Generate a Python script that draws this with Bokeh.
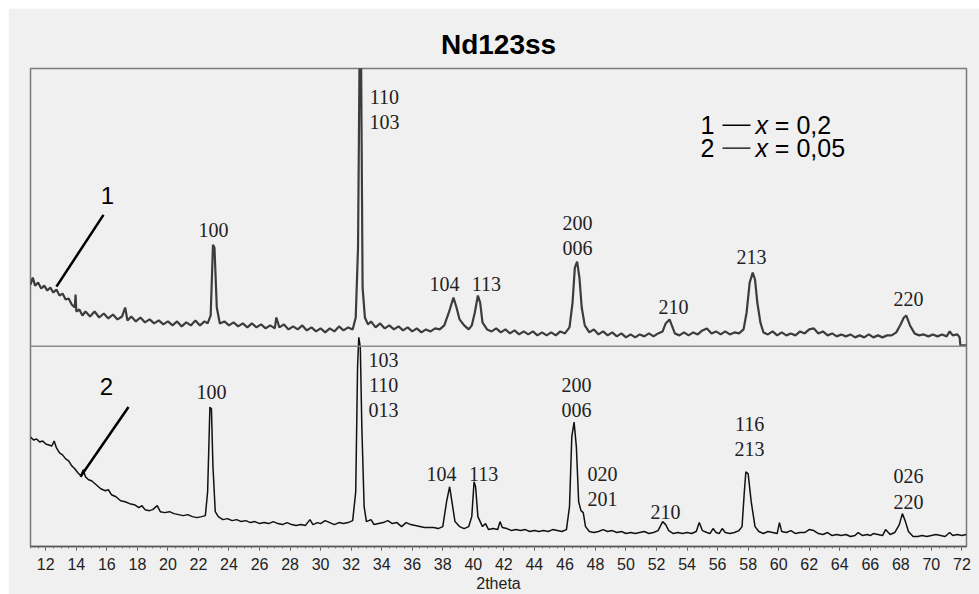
from bokeh.plotting import figure
from bokeh.models import FixedTicker, Span, ColumnDataSource
from bokeh.core.properties import value
from bokeh.embed import file_html
from bokeh.resources import INLINE

# ---------------- data ----------------
theta_1 = [11.0, 11.15, 11.3, 11.5, 11.7, 11.9, 12.1, 12.3, 12.5, 12.7, 12.9, 13.1, 13.3, 13.5, 13.7, 13.9, 13.95, 14.0,
           14.2, 14.4, 14.6, 14.9, 15.2, 15.5, 15.8, 16.1, 16.4, 16.7, 17.0, 17.2, 17.35, 17.6, 17.9, 18.2, 18.5, 18.8,
           19.1, 19.4, 19.7, 20.0, 20.3, 20.6, 20.9, 21.2, 21.5, 21.8, 22.1, 22.4, 22.6, 22.8, 22.95, 23.05, 23.2, 23.4,
           23.7, 24.0, 24.3, 24.6, 24.9, 25.2, 25.5, 25.8, 26.1, 26.4, 26.7, 27.0, 27.1, 27.3, 27.6, 27.9, 28.2, 28.5,
           28.8, 29.1, 29.4, 29.7, 30.0, 30.3, 30.6, 30.9, 31.2, 31.5, 31.8, 32.1, 32.3, 32.45, 32.55, 32.65, 32.75, 32.9,
           33.1, 33.3, 33.6, 33.9, 34.2, 34.5, 34.8, 35.1, 35.4, 35.7, 36.0, 36.3, 36.6, 36.9, 37.2, 37.5, 37.8, 38.1,
           38.4, 38.7, 38.9, 39.1, 39.4, 39.7, 39.9, 40.1, 40.3, 40.45, 40.6, 40.9, 41.2, 41.5, 41.8, 42.1, 42.4, 42.7,
           43.0, 43.3, 43.6, 43.9, 44.2, 44.5, 44.8, 45.1, 45.4, 45.7, 46.0, 46.3, 46.5, 46.65, 46.8, 46.95, 47.1, 47.3,
           47.6, 47.9, 48.2, 48.5, 48.8, 49.1, 49.4, 49.7, 50.0, 50.3, 50.6, 50.9, 51.2, 51.5, 51.8, 52.1, 52.4, 52.6,
           52.85, 53.0, 53.2, 53.5, 53.8, 54.1, 54.4, 54.7, 55.0, 55.3, 55.6, 55.9, 56.2, 56.5, 56.8, 57.1, 57.4, 57.7,
           57.9, 58.1, 58.3, 58.45, 58.6, 58.8, 59.0, 59.3, 59.6, 59.9, 60.2, 60.5, 60.8, 61.1, 61.4, 61.7, 62.0, 62.3,
           62.6, 62.9, 63.2, 63.5, 63.8, 64.1, 64.4, 64.7, 65.0, 65.3, 65.6, 65.9, 66.2, 66.5, 66.8, 67.1, 67.4, 67.7,
           67.95, 68.2, 68.35, 68.6, 68.9, 69.2, 69.5, 69.8, 70.1, 70.4, 70.7, 71.0, 71.2, 71.4, 71.7, 71.85, 71.9, 72.3]
counts_1 = [263, 270, 262, 265, 259, 262, 257, 260, 255, 258, 252, 254, 248, 249, 243, 240, 253, 236,
            238, 232, 236, 231, 236, 230, 234, 229, 233, 228, 231, 240, 227, 231, 226, 230, 225, 228,
            224, 227, 223, 226, 222, 226, 221, 225, 222, 227, 222, 226, 224, 232, 303, 300, 240, 224,
            226, 222, 225, 221, 224, 220, 224, 220, 223, 219, 222, 219, 230, 220, 223, 218, 221, 218,
            222, 217, 220, 216, 219, 215, 219, 216, 221, 217, 220, 218, 230, 300, 490, 490, 260, 230,
            223, 226, 220, 224, 219, 222, 218, 221, 217, 220, 216, 219, 215, 218, 216, 219, 218, 222,
            235, 250, 240, 228, 222, 218, 222, 235, 252, 245, 225, 218, 216, 219, 215, 218, 214, 217,
            213, 216, 213, 216, 212, 215, 212, 215, 212, 216, 214, 220, 245, 280, 286, 270, 240, 222,
            215, 218, 213, 216, 212, 215, 211, 214, 210, 213, 210, 213, 211, 214, 211, 214, 216, 224,
            228, 222, 214, 212, 215, 212, 215, 213, 217, 219, 214, 216, 213, 216, 213, 215, 214, 218,
            235, 265, 275, 268, 245, 225, 215, 213, 216, 212, 215, 212, 214, 212, 216, 214, 218, 219,
            214, 216, 212, 214, 211, 213, 211, 213, 210, 212, 210, 213, 210, 212, 210, 212, 212, 215,
            222, 230, 232, 222, 214, 212, 213, 211, 213, 211, 213, 211, 216, 212, 213, 210, 202, 202]

theta_2 = [11.0, 11.2, 11.4, 11.6, 11.8, 12.0, 12.2, 12.4, 12.55, 12.7, 12.9, 13.1, 13.3, 13.5, 13.7, 13.9, 14.1, 14.3,
           14.45, 14.6, 14.8, 15.0, 15.3, 15.6, 15.9, 16.1, 16.3, 16.6, 16.9, 17.2, 17.5, 17.8, 18.1, 18.3, 18.5, 18.8,
           19.0, 19.3, 19.5, 19.8, 20.1, 20.4, 20.7, 21.0, 21.3, 21.6, 21.9, 22.2, 22.45, 22.6, 22.75, 22.85, 22.95,
           23.1, 23.3, 23.6, 23.9, 24.2, 24.5, 24.8, 25.1, 25.4, 25.7, 26.0, 26.3, 26.6, 26.9, 27.2, 27.5, 27.8, 28.1,
           28.4, 28.7, 29.0, 29.3, 29.5, 29.8, 30.0, 30.3, 30.6, 30.9, 31.2, 31.5, 31.8, 32.1, 32.3, 32.42, 32.5, 32.6,
           32.7, 32.85, 33.0, 33.3, 33.5, 33.8, 34.1, 34.4, 34.7, 35.0, 35.3, 35.6, 35.9, 36.2, 36.5, 36.8, 37.1, 37.4,
           37.7, 38.0, 38.25, 38.45, 38.6, 38.8, 39.1, 39.4, 39.7, 39.9, 40.05, 40.15, 40.3, 40.6, 40.8, 41.0, 41.3,
           41.6, 41.75, 41.9, 42.2, 42.5, 42.8, 43.1, 43.4, 43.7, 44.0, 44.3, 44.6, 44.9, 45.2, 45.5, 45.8, 46.1, 46.3,
           46.45, 46.6, 46.75, 46.9, 47.05, 47.2, 47.35, 47.6, 47.9, 48.2, 48.5, 48.8, 49.1, 49.4, 49.7, 50.0, 50.3,
           50.6, 50.9, 51.2, 51.5, 51.8, 52.1, 52.4, 52.6, 52.8, 53.1, 53.4, 53.7, 54.0, 54.3, 54.6, 54.8, 55.0, 55.3,
           55.5, 55.7, 55.9, 56.1, 56.3, 56.5, 56.8, 57.1, 57.4, 57.6, 57.75, 57.85, 58.0, 58.2, 58.45, 58.7, 59.0,
           59.3, 59.6, 59.9, 60.05, 60.2, 60.5, 60.8, 61.1, 61.4, 61.7, 62.0, 62.3, 62.6, 62.9, 63.2, 63.5, 63.8, 64.1,
           64.4, 64.7, 65.0, 65.2, 65.5, 65.8, 66.0, 66.2, 66.5, 66.8, 67.0, 67.3, 67.6, 67.9, 68.1, 68.3, 68.5, 68.8,
           69.1, 69.4, 69.7, 70.0, 70.3, 70.6, 70.9, 71.2, 71.4, 71.7, 72.0, 72.3]
counts_2 = [110, 107, 108, 105, 106, 103, 102, 101, 106, 99, 94, 92, 88, 86, 81, 78, 74, 71,
            77, 70, 67, 66, 62, 58, 56, 57, 52, 50, 46, 45, 43, 42, 39, 41, 37, 36,
            37, 41, 35, 34, 35, 33, 32, 31, 32, 30, 29, 30, 31, 55, 140, 138, 80,
            35, 30, 27, 28, 26, 27, 25, 26, 24, 25, 23, 24, 23, 25, 23, 22, 24, 22,
            21, 22, 21, 27, 22, 24, 23, 26, 24, 22, 24, 23, 24, 26, 55, 180, 210, 200,
            120, 40, 25, 27, 22, 23, 24, 26, 23, 24, 20, 24, 22, 21, 20, 19, 19, 19,
            18, 20, 45, 60, 45, 25, 20, 18, 20, 30, 65, 60, 30, 20, 23, 17, 18,
            17, 25, 19, 18, 16, 17, 16, 17, 15, 16, 15, 16, 15, 17, 16, 15, 17, 40,
            110, 125, 100, 45, 36, 34, 20, 15, 14, 15, 17, 15, 16, 14, 15, 13, 14,
            13, 14, 15, 13, 14, 16, 25, 22, 16, 13, 14, 13, 14, 13, 15, 24, 16, 14,
            13, 18, 14, 13, 18, 14, 13, 14, 16, 20, 55, 75, 73, 45, 20, 15, 13,
            15, 14, 13, 24, 15, 14, 16, 13, 14, 14, 17, 16, 13, 12, 14, 11, 12, 11,
            12, 10, 11, 14, 11, 12, 11, 13, 12, 11, 17, 12, 14, 22, 33, 25, 15, 10,
            10, 11, 10, 11, 12, 11, 10, 14, 11, 12, 11, 12]

tick_values = [12, 14, 16, 18, 20, 22, 24, 26, 28, 30, 32, 34, 36, 38, 40, 42, 44, 46, 48, 50,
               52, 54, 56, 58, 60, 62, 64, 66, 68, 70, 72]
minor_tick_values = [11.0, 11.5, 12.0, 12.5, 13.0, 13.5, 14.0, 14.5, 15.0, 15.5, 16.0, 16.5, 17.0, 17.5, 18.0,
                     18.5, 19.0, 19.5, 20.0, 20.5, 21.0, 21.5, 22.0, 22.5, 23.0, 23.5, 24.0, 24.5, 25.0, 25.5,
                     26.0, 26.5, 27.0, 27.5, 28.0, 28.5, 29.0, 29.5, 30.0, 30.5, 31.0, 31.5, 32.0, 32.5, 33.0,
                     33.5, 34.0, 34.5, 35.0, 35.5, 36.0, 36.5, 37.0, 37.5, 38.0, 38.5, 39.0, 39.5, 40.0, 40.5,
                     41.0, 41.5, 42.0, 42.5, 43.0, 43.5, 44.0, 44.5, 45.0, 45.5, 46.0, 46.5, 47.0, 47.5, 48.0,
                     48.5, 49.0, 49.5, 50.0, 50.5, 51.0, 51.5, 52.0, 52.5, 53.0, 53.5, 54.0, 54.5, 55.0, 55.5,
                     56.0, 56.5, 57.0, 57.5, 58.0, 58.5, 59.0, 59.5, 60.0, 60.5, 61.0, 61.5, 62.0, 62.5, 63.0,
                     63.5, 64.0, 64.5, 65.0, 65.5, 66.0, 66.5, 67.0, 67.5, 68.0, 68.5, 69.0, 69.5, 70.0, 70.5,
                     71.0, 71.5, 72.0]

hkl_1 = ["100", "110", "103", "104", "113", "200", "006", "210", "213", "220"]
hkl_2 = ["100", "103", "110", "013", "104", "113", "200", "006", "020", "201", "210", "116", "213", "026", "220"]

# ---------------- layout / positions ----------------
hkl_1_x = [22.98, 34.18, 34.18, 38.11, 40.86, 46.82, 46.82, 53.11, 58.22, 68.50]
hkl_1_y = [318, 451, 426, 264, 264, 325, 300, 241, 291, 249]
hkl_2_x = [22.85, 34.12, 34.12, 34.12, 37.92, 40.67, 46.76, 46.76, 48.46, 48.46, 52.58, 58.09, 58.09, 68.50, 68.50]
hkl_2_y = [155, 187, 162, 137, 73, 73, 162, 137, 73, 48, 35, 123, 98, 71, 45]

SANS = "Liberation Sans"
SERIF = "Liberation Serif"

p = figure(width=971, height=586, x_range=(11.0, 72.3), y_range=(0, 480),
           output_backend="svg", toolbar_location=None,
           min_border_left=22, min_border_right=13, min_border_top=60, min_border_bottom=46)
p.margin = (8, 0, 0, 8)
p.background_fill_color = "#f0f0f0"
p.border_fill_color = "#f0f0f0"
p.outline_line_color = "#7a7a7a"
p.outline_line_width = 1.5
p.grid.visible = False
p.yaxis.visible = False

p.title.text = "Nd123ss"
p.title.align = "center"
p.title.offset = -7
p.title.text_font = SANS
p.title.text_font_size = "28px"
p.title.text_font_style = "bold"
p.title.text_color = "#000000"
p.title.standoff = 17

ax = p.xaxis[0]
ax.ticker = FixedTicker(ticks=tick_values, minor_ticks=minor_tick_values)
ax.axis_line_color = "#555555"
ax.axis_line_width = 1.5
ax.major_tick_in = 0
ax.major_tick_out = 4
ax.minor_tick_in = 0
ax.minor_tick_out = 2
ax.major_tick_line_color = "#555555"
ax.minor_tick_line_color = "#777777"
ax.major_label_text_font = SANS
ax.major_label_text_font_size = "16px"
ax.major_label_text_color = "#222222"
ax.major_label_standoff = 7
ax.axis_label = "2theta"
ax.axis_label_text_font = SANS
ax.axis_label_text_font_style = "normal"
ax.axis_label_text_font_size = "16px"
ax.axis_label_text_color = "#222222"
ax.axis_label_standoff = 2

# separator between the two patterns
p.add_layout(Span(location=201, dimension="width", line_color="#8c8c8c", line_width=1.5))

p.line(theta_1, counts_1, line_color="#3c3c3c", line_width=2.2)
p.line(theta_2, counts_2, line_color="#111111", line_width=1.5)

src1 = ColumnDataSource(dict(x=hkl_1_x, y=hkl_1_y, t=hkl_1))
src2 = ColumnDataSource(dict(x=hkl_2_x, y=hkl_2_y, t=hkl_2))
for s in (src1, src2):
    p.text(x="x", y="y", text="t", source=s, text_font=value(SERIF), text_font_size="20px",
           text_color="#222222", text_align="center", text_baseline="middle")

# curve markers 1 and 2
p.segment(x0=[15.78, 17.42], y0=[333, 140], x1=[12.70, 14.27], y1=[261, 70], line_color="#000000", line_width=2.5)
p.text(x=[16.04, 15.98], y=[352, 161], text=["1", "2"], text_font=value(SANS), text_font_size="24px",
       text_color="#000000", text_align="center", text_baseline="middle")

# legend text
p.text(x=[54.88, 54.88], y=[423, 400], text=["1", "2"], text_font=value(SANS), text_font_size="25px",
       text_color="#000000", text_align="left", text_baseline="middle")
p.segment(x0=[56.32, 56.32], y0=[423, 400], x1=[58.15, 58.15], y1=[423, 400], line_color="#000000", line_width=1.3)
p.text(x=[58.48, 58.48], y=[423, 400], text=["x", "x"], text_font=value(SANS), text_font_size="25px",
       text_font_style="italic", text_color="#000000", text_align="left", text_baseline="middle")
p.text(x=[59.75, 59.75], y=[423, 400], text=["= 0,2", "= 0,05"], text_font=value(SANS), text_font_size="25px",
       text_color="#000000", text_align="left", text_baseline="middle")

open("out.html", "w").write(file_html(p, INLINE))
